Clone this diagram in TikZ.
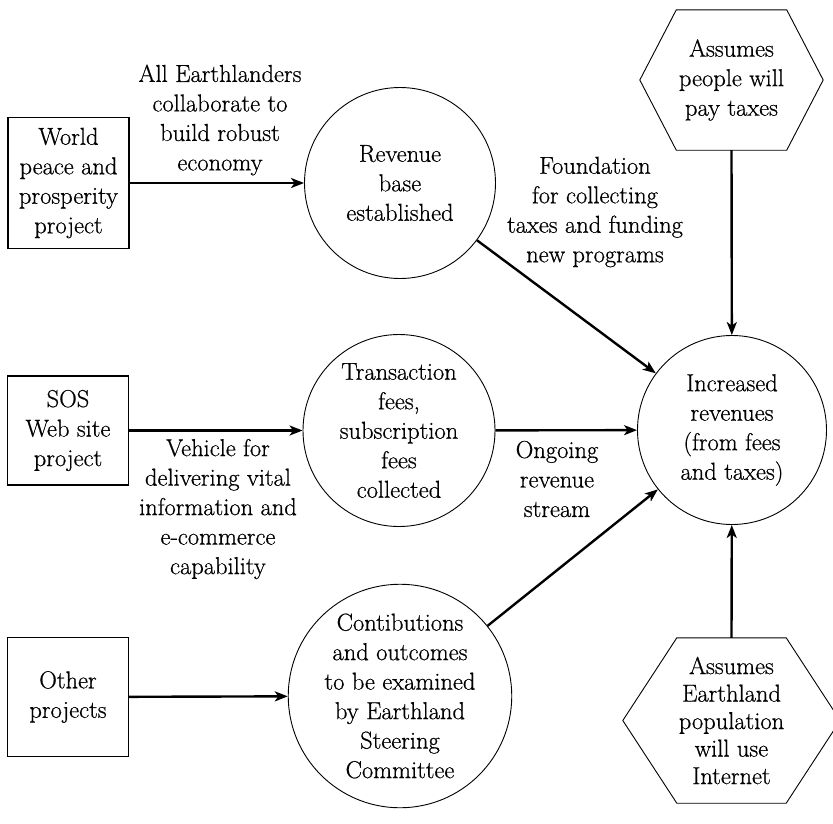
\documentclass[tikz,border=0pt]{standalone}
\usepackage{fontspec}
\setmainfont{Latin Modern Roman}[FakeBold=0.6]
\usetikzlibrary{arrows.meta}
\begin{document}
\begin{tikzpicture}[x=1pt,y=-1pt,
  every node/.style={font=\fontsize{24.5}{29.5}\selectfont, align=center},
  proj/.style={draw, line width=1.3pt, minimum width=121pt, inner sep=0pt},
  stage/.style={draw, circle, line width=0.9pt, inner sep=0pt},
  hexlabel/.style={inner sep=0pt},
  hexline/.style={line width=0.9pt, line join=miter},
  flow/.style={line width=2.4pt, -{Stealth[length=13pt,width=10pt,inset=3.5pt]}},
  note/.style={inner sep=0pt}]
\useasboundingbox (0,0) rectangle (833,823);

% project boxes
\node[proj, minimum height=131pt] (world) at (68.5,183) {World\\peace and\\prosperity\\project};
\node[proj, minimum height=109pt] (sos) at (68,430.5) {SOS\\Web site\\project};
\node[proj, minimum height=119pt] (other) at (68,697) {Other\\projects};

% stages
\node[stage, minimum size=191pt] (base) at (400,183) {Revenue\\base\\established};
\node[stage, minimum size=192pt] (fees) at (399,430.5) {Transaction\\fees,\\subscription\\fees\\collected};
\node[stage, minimum size=220pt] (contrib) at (400,696) {Contibutions\\and outcomes\\to be examined\\by Earthland\\Steering\\Committee};
\node[stage, minimum size=189pt] (inc) at (732,430) {Increased\\revenues\\(from fees\\and taxes)};

% assumptions (hexagons)
\node[hexlabel, minimum width=110pt, minimum height=140pt] (taxes) at (731.5,80) {Assumes\\people will\\pay taxes};
\draw[hexline] (taxes.north west) -- (taxes.north east) -- ([xshift=36.5pt]taxes.east)
  -- (taxes.south east) -- (taxes.south west) -- ([xshift=-36.5pt]taxes.west) -- cycle;

\node[hexlabel, minimum width=109pt, minimum height=165pt,
      font=\fontsize{24.5}{27.5}\selectfont] (internet) at (731.5,720.5)
  {Assumes\\Earthland\\population\\will use\\Internet};
\draw[hexline] (internet.north west) -- (internet.north east) -- ([xshift=54pt]internet.east)
  -- (internet.south east) -- (internet.south west) -- ([xshift=-54pt]internet.west) -- cycle;

% flows
\draw[flow] (world) -- (base);
\draw[flow] (sos) -- (fees);
\draw[flow] (other) -- (contrib);
\draw[flow] (base) -- (inc);
\draw[flow] (fees) -- (inc);
\draw[flow] (contrib) -- (inc);
\draw[flow] (taxes.south) -- (inc);
\draw[flow] (internet.north) -- (inc);

% flow labels
\node[note] (lab1) at (220,120) {All Earthlanders\\collaborate to\\build robust\\economy};
\node[note] (lab2) at (595,212) {Foundation\\for collecting\\taxes and funding\\new programs};
\node[note] (lab3) at (218,509) {Vehicle for\\delivering vital\\information and\\e-commerce\\capability};
\node[note] (lab4) at (557,479) {Ongoing\\revenue\\stream};
\end{tikzpicture}
\end{document}
